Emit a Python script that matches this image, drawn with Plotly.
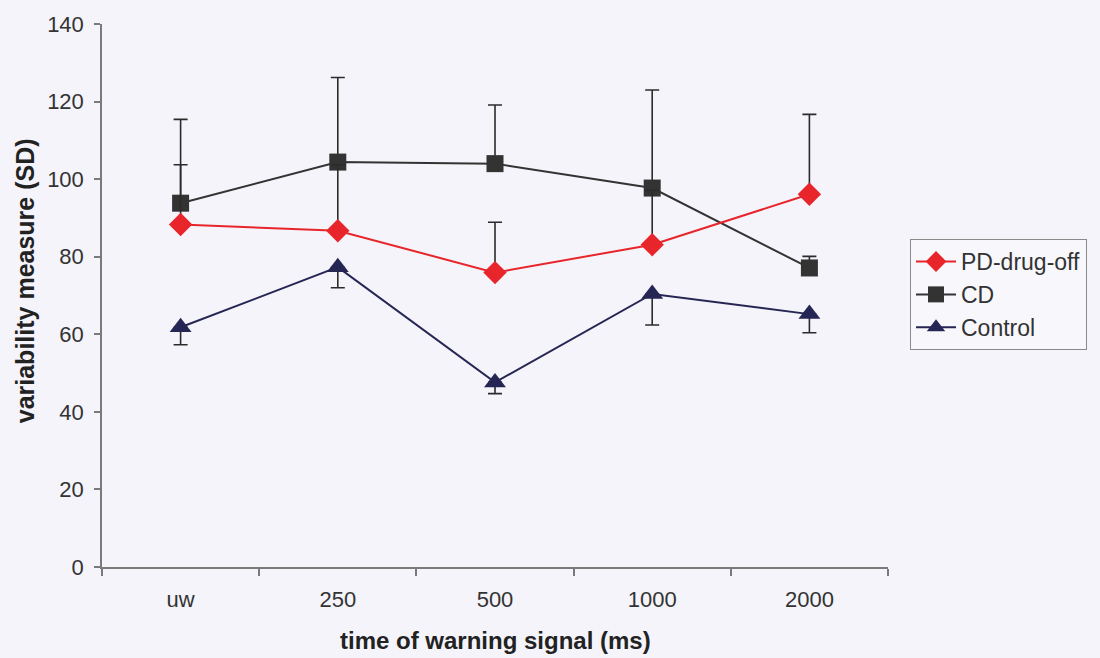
import plotly.graph_objects as go

# warning-signal conditions
categories = ["uw", "250", "500", "1000", "2000"]

# group means of the variability measure (SD)
pd_drug_off = [88.3, 86.7, 75.9, 83.1, 96.1]
cd = [93.8, 104.4, 104.0, 97.7, 77.1]
control = [61.8, 77.3, 47.6, 70.4, 65.2]

# one-sided error bars (upper for PD-drug-off and CD, lower for Control)
pd_err_up = [15.4, 17.0, 13.0, 14.0, 20.6]
cd_err_up = [21.6, 21.8, 15.1, 25.3, 3.0]
control_err_down = [4.5, 5.3, 2.9, 8.0, 4.8]

zeros = [0] * len(categories)
bar_col = "#2b2b2b"
bg = "#f4f4fa"

fig = go.Figure()

fig.add_trace(go.Scatter(
    x=categories, y=cd, name="CD", mode="lines+markers",
    line=dict(color="#333333", width=2),
    marker=dict(symbol="square", size=17, color="#333333"),
    error_y=dict(type="data", symmetric=False, array=cd_err_up, arrayminus=zeros,
                 color=bar_col, thickness=1.6, width=7),
    legendrank=2,
))
fig.add_trace(go.Scatter(
    x=categories, y=pd_drug_off, name="PD-drug-off", mode="lines+markers",
    line=dict(color="#e8252b", width=2),
    marker=dict(symbol="diamond", size=18, color="#e8252b"),
    error_y=dict(type="data", symmetric=False, array=pd_err_up, arrayminus=zeros,
                 color=bar_col, thickness=1.6, width=7),
    legendrank=1,
))
fig.add_trace(go.Scatter(
    x=categories, y=control, name="Control", mode="lines+markers",
    line=dict(color="#262654", width=2),
    marker=dict(symbol="triangle-up", size=19, color="#262654"),
    error_y=dict(type="data", symmetric=False, array=zeros, arrayminus=control_err_down,
                 color=bar_col, thickness=1.6, width=7),
    legendrank=3,
))

font_family = "Liberation Sans, Arial, sans-serif"

fig.update_layout(
    width=1100, height=658,
    margin=dict(l=102, r=212, t=22, b=91),
    paper_bgcolor=bg, plot_bgcolor=bg,
    font=dict(family=font_family, color="#333333", size=22),
    showlegend=True,
    legend=dict(
        x=1.028, y=0.604, xanchor="left", yanchor="top",
        bgcolor="#f8f8fc", bordercolor="#8a8a8a", borderwidth=1,
        font=dict(size=23, color="#333333"),
        itemwidth=40, tracegroupgap=0,
    ),
    xaxis=dict(
        type="category", range=[-0.5, 4.5], tickson="boundaries",
        showline=True, linecolor="#7a7a7a", linewidth=1.5,
        ticks="outside", ticklen=7, tickcolor="#7a7a7a", tickwidth=1.5,
        showgrid=False, zeroline=False, ticklabelstandoff=12,
        tickfont=dict(size=22, color="#333333"),
    ),
    yaxis=dict(
        range=[0, 140], tickvals=[0, 20, 40, 60, 80, 100, 120, 140],
        showline=True, linecolor="#7a7a7a", linewidth=1.5,
        ticks="outside", ticklen=6, tickcolor="#7a7a7a", tickwidth=1.5,
        showgrid=False, zeroline=False, ticklabelstandoff=6,
        tickfont=dict(size=22, color="#333333"),
    ),
    annotations=[
        dict(text="<b>time of warning signal (ms)</b>", xref="paper", yref="paper",
             x=0.5, y=-0.135, xanchor="center", yanchor="middle", showarrow=False,
             font=dict(size=24, color="#222222")),
        dict(text="<b>variability measure (SD)</b>", xref="paper", yref="paper",
             x=-0.098, y=0.528, xanchor="center", yanchor="middle", showarrow=False,
             textangle=-90, font=dict(size=25, color="#222222")),
    ],
)

fig.write_html("out.html")
